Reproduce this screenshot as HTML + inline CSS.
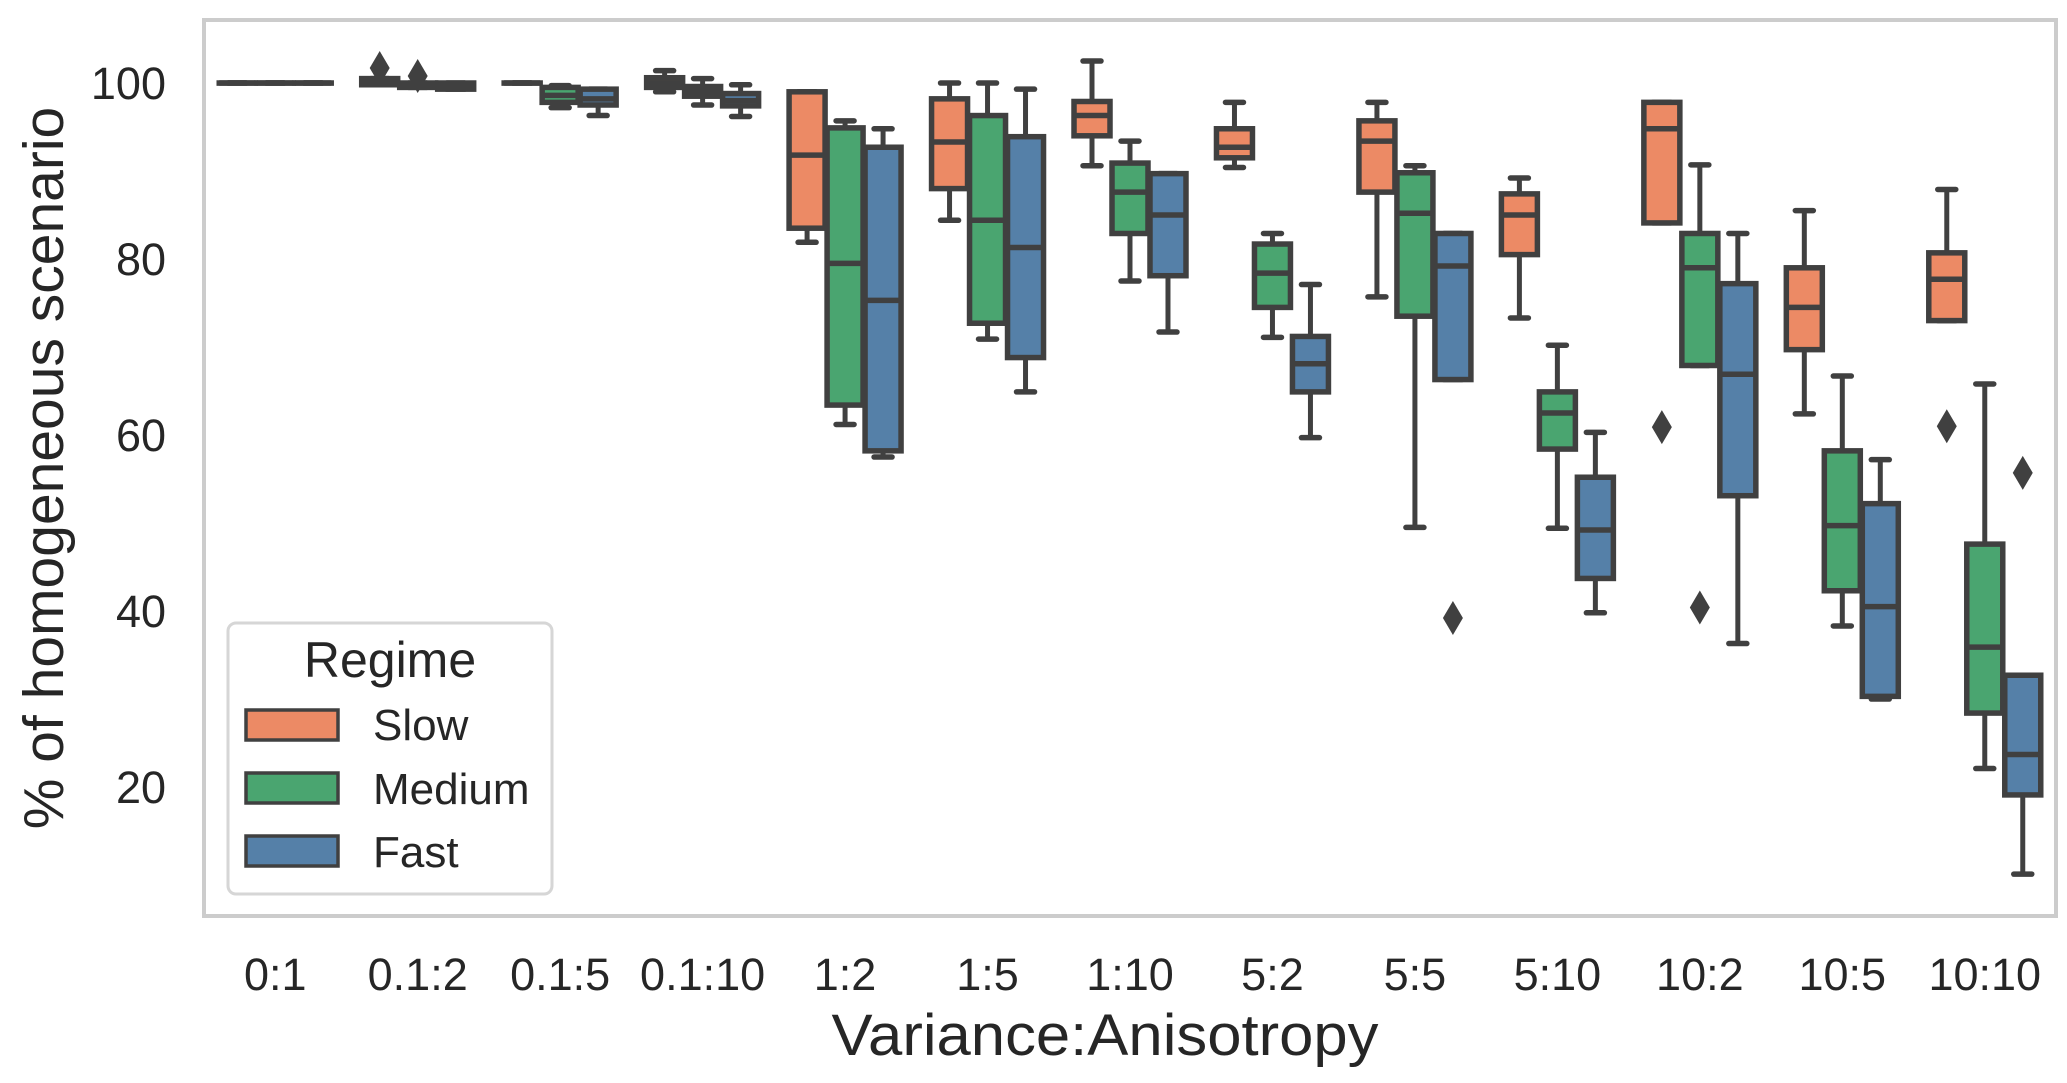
<!DOCTYPE html>
<html><head><meta charset="utf-8"><style>
body{margin:0;background:#fff;}
svg{display:block;font-family:"Liberation Sans",Arial,sans-serif;}
</style></head><body>
<svg id="chart" width="2067" height="1083" viewBox="0 0 2067 1083">
<rect x="0" y="0" width="2067" height="1083" fill="#fff"/>
<rect x="204" y="20" width="1852" height="896" fill="#fff" stroke="#cccccc" stroke-width="4"/>
<g id="marks"></g>
<g id="axes"></g>
<text x="1105" y="1055" font-size="58" textLength="547" lengthAdjust="spacingAndGlyphs" text-anchor="middle" fill="#262626">Variance:Anisotropy</text>
<text transform="translate(48,468) rotate(-90)" font-size="57" text-anchor="middle" dominant-baseline="middle" fill="#262626">% of homogeneous scenario</text>
<g>
<rect x="228" y="623" width="324" height="271" rx="8" fill="#fff" stroke="#d6d6d6" stroke-width="3"/>
<text x="390" y="677" font-size="50" text-anchor="middle" fill="#262626">Regime</text>
<rect x="246" y="710" width="92" height="30" fill="#ec8a65" stroke="#404040" stroke-width="3.5"/>
<text x="373" y="740" font-size="44" fill="#262626">Slow</text>
<rect x="246" y="773" width="92" height="30" fill="#4aa570" stroke="#404040" stroke-width="3.5"/>
<text x="373" y="804" font-size="44" fill="#262626">Medium</text>
<rect x="246" y="836" width="92" height="30" fill="#5580a8" stroke="#404040" stroke-width="3.5"/>
<text x="373" y="867" font-size="44" fill="#262626">Fast</text>
</g>
</svg>
<script>
const categories=["0:1","0.1:2","0.1:5","0.1:10","1:2","1:5","1:10","5:2","5:5","5:10","10:2","10:5","10:10"];
const regimes=["Slow","Medium","Fast"];
const colors=["#ec8a65","#4aa570","#5580a8"];
const yTicks=[20,40,60,80,100];
// each entry: [whiskerLow, q1, median, q3, whiskerHigh]
const slowStats=[[100,100,100,100,100],[99.8,99.8,100,100.5,100.5],[100,100,100,100,100],[99,99.5,100,100.6,101.4],[81.9,83.5,91.8,99,99],[84.4,88,93.3,98.2,100],[90.6,94,96.3,97.9,102.5],[90.4,91.5,92.7,94.8,97.8],[75.7,87.6,93.4,95.7,97.8],[73.3,80.5,85,87.4,89.2],[84.1,84.1,94.8,97.8,97.8],[62.4,69.7,74.5,79,85.5],[73,73,77.7,80.7,87.9]];
const mediumStats=[[100,100,100,100,100],[99.5,99.5,99.7,100,100],[97.2,97.8,98.6,99.5,99.7],[97.5,98.5,99,99.6,100.5],[61.2,63.4,79.5,94.9,95.7],[70.9,72.7,84.4,96.3,100],[77.5,82.9,87.6,90.9,93.4],[71.1,74.5,78.4,81.7,82.9],[49.5,73.5,85.2,89.8,90.6],[49.4,58.4,62.5,64.9,70.2],[67.9,67.9,79,82.9,90.7],[38.3,42.3,49.7,58.2,66.7],[22.1,28.4,35.9,47.6,65.8]];
const fastStats=[[100,100,100,100,100],[99.3,99.3,99.6,100,100],[96.3,97.5,98.2,99.3,99.3],[96.2,97.4,98,98.8,99.8],[57.5,58.2,75.3,92.7,94.8],[64.9,68.8,81.3,93.9,99.3],[71.7,78.1,85,89.7,89.7],[59.7,64.9,68.1,71.2,77.1],[66.3,66.3,79.2,82.9,82.9],[39.8,43.7,49.2,55.2,60.3],[36.3,53.1,66.9,77.2,82.9],[30,30.3,40.5,52.2,57.2],[10.1,19.1,23.7,32.7,32.7]];
// outliers: [categoryIndex, value]
const slowOutliers=[[1,101.7],[10,60.9],[12,61]];
const mediumOutliers=[[1,100.8],[10,40.4]];
const fastOutliers=[[8,39.2],[12,55.7]];

const NS="http://www.w3.org/2000/svg";
const L=204,R=2056,T=20,B=916;
const band=(R-L)/categories.length;
function xPos(i){return L+band*(i+0.5);}
function yPos(v){return 83+(100-v)*8.8;}
const boxW=band*0.8/3;
function mk(tag,attrs,parent){const e=document.createElementNS(NS,tag);for(const k in attrs)e.setAttribute(k,attrs[k]);parent.appendChild(e);return e;}
const marks=document.getElementById('marks');
const axes=document.getElementById('axes');
const stroke="#404040";
const allStats=[slowStats,mediumStats,fastStats];
const allOut=[slowOutliers,mediumOutliers,fastOutliers];
for(let r=0;r<3;r++){
  allStats[r].forEach((s,i)=>{
    const cx=xPos(i)+(r-1)*boxW;
    const g=mk('g',{},marks);
    
    
    const [lo,q1,md,q3,hi]=s;
    const w=boxW-2;
    mk('line',{x1:cx,x2:cx,y1:yPos(hi),y2:yPos(q3),stroke:stroke,'stroke-width':5},g);
    mk('line',{x1:cx,x2:cx,y1:yPos(q1),y2:yPos(lo),stroke:stroke,'stroke-width':5},g);
    mk('line',{x1:cx-w/4,x2:cx+w/4,y1:yPos(hi),y2:yPos(hi),stroke:stroke,'stroke-width':5.5,'stroke-linecap':'round'},g);
    mk('line',{x1:cx-w/4,x2:cx+w/4,y1:yPos(lo),y2:yPos(lo),stroke:stroke,'stroke-width':5.5,'stroke-linecap':'round'},g);
    mk('rect',{x:cx-w/2,y:yPos(q3),width:w,height:Math.max(yPos(q1)-yPos(q3),0.1),fill:colors[r],stroke:stroke,'stroke-width':5.5},g);
    mk('line',{x1:cx-w/2,x2:cx+w/2,y1:yPos(md),y2:yPos(md),stroke:stroke,'stroke-width':5.5},g);
  });
  allOut[r].forEach(o=>{
    const cx=xPos(o[0])+(r-1)*boxW, cy=yPos(o[1]);
    const p=mk('polygon',{points:`${cx},${cy-17} ${cx+10},${cy} ${cx},${cy+17} ${cx-10},${cy}`,fill:stroke},marks);
    
    
  });
}
categories.forEach((c,i)=>{
  const t=mk('text',{x:xPos(i),y:990,'font-size':45,'text-anchor':'middle',fill:'#262626'},axes);
  t.textContent=c;
  
  
});
yTicks.forEach(v=>{
  const t=mk('text',{x:166,y:yPos(v)+16,'font-size':45,'text-anchor':'end',fill:'#262626'},axes);
  t.textContent=v;
  
  
});
</script>
</body></html>
